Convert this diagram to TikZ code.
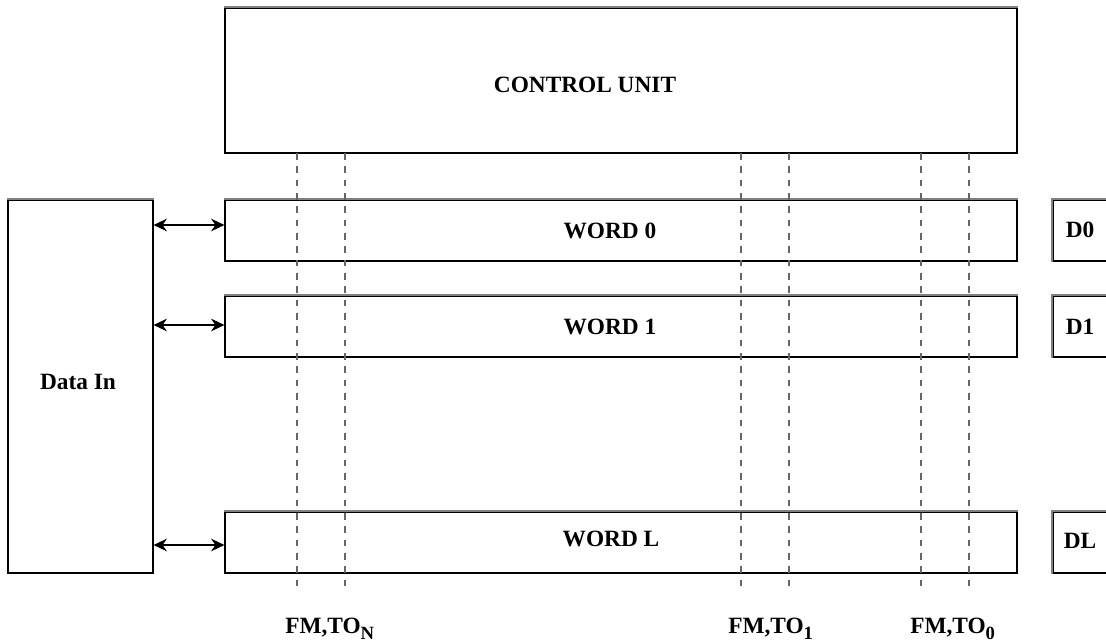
\documentclass[tikz,border=0pt]{standalone}
\usepackage{fontspec}
\setmainfont{Liberation Serif}
\usetikzlibrary{arrows.meta,fit}
\begin{document}
\begin{tikzpicture}[x=0.75pt,y=-0.75pt,
  box/.style={draw=black,line width=0.9pt,fill=white,inner sep=0pt},
  topedge/.style={draw=black!50,line width=1.5pt},
  sigline/.style={draw=black!60,line width=0.8pt,dash pattern=on 5pt off 5pt},
  bus/.style={draw=black,line width=0.8pt,{Stealth[length=10pt,width=9.5pt]}-{Stealth[length=10pt,width=9.5pt]}},
  lbl/.style={font=\bfseries\fontsize{17.5}{19}\selectfont,inner sep=0pt},
  sig/.style={font=\bfseries\fontsize{17.5}{19}\selectfont,inner sep=0pt,anchor=base west}]
\useasboundingbox (0,0) rectangle (1106,643);
\clip (0,0) rectangle (1106,643);
% boxes
\node[box,fit={(225,8) (1017,153)}] (cu) {};
\node[box,fit={(8,200) (153,573)}] (din) {};
\node[box,fit={(225,200) (1017,261)}] (w0) {};
\node[box,fit={(225,296) (1017,357)}] (w1) {};
\node[box,fit={(225,512) (1017,573)}] (wl) {};
\node[box,fit={(1053,200) (1130,261)}] (d0) {};
\node[box,fit={(1053,296) (1130,357)}] (d1) {};
\node[box,fit={(1053,512) (1130,573)}] (dl) {};
\foreach \n in {cu,din,w0,w1,wl}
  \draw[topedge] (\n.north west) -- (\n.north east);
\foreach \n in {d0,d1,dl}
  \draw[topedge] (\n.south west) -- (\n.north west) -- (\n.north east);
% texts
\node[lbl] (tcu) at (585,84.5) {CONTROL UNIT};
\node[lbl] (tdin) at (78,381.5) {Data In};
\node[lbl] (tw0) at (610,231) {WORD 0};
\node[lbl] (tw1) at (610,327) {WORD 1};
\node[lbl] (twl) at (611,539) {WORD L};
\node[lbl] (td0) at (1080,230) {D0};
\node[lbl] (td1) at (1080,326.5) {D1};
\node[lbl] (tdl) at (1080,541) {DL};
% signal lines
\foreach \i/\x in {1/297,2/345,3/741,4/789,5/921,6/969}{
  \coordinate (s\i) at (\x,153);
  \coordinate (e\i) at (\x,590);
  \draw[sigline] (s\i) -- (e\i);
}
\node[sig] (fn) at (285,633) {FM,TO\raisebox{-4.5pt}{\fontsize{14}{14}\selectfont N}};
\node[sig] (f1) at (728,633) {FM,TO\raisebox{-4.5pt}{\fontsize{14}{14}\selectfont 1}};
\node[sig] (f0) at (910,633) {FM,TO\raisebox{-4.5pt}{\fontsize{14}{14}\selectfont 0}};
% buses
\coordinate (a0) at (din.east |- 0,225);
\coordinate (a1) at (din.east |- 0,325);
\coordinate (a2) at (din.east |- 0,545);
\draw[bus] (a0) -- (w0.west |- a0);
\draw[bus] (a1) -- (w1.west |- a1);
\draw[bus] (a2) -- (wl.west |- a2);
\end{tikzpicture}
\end{document}
